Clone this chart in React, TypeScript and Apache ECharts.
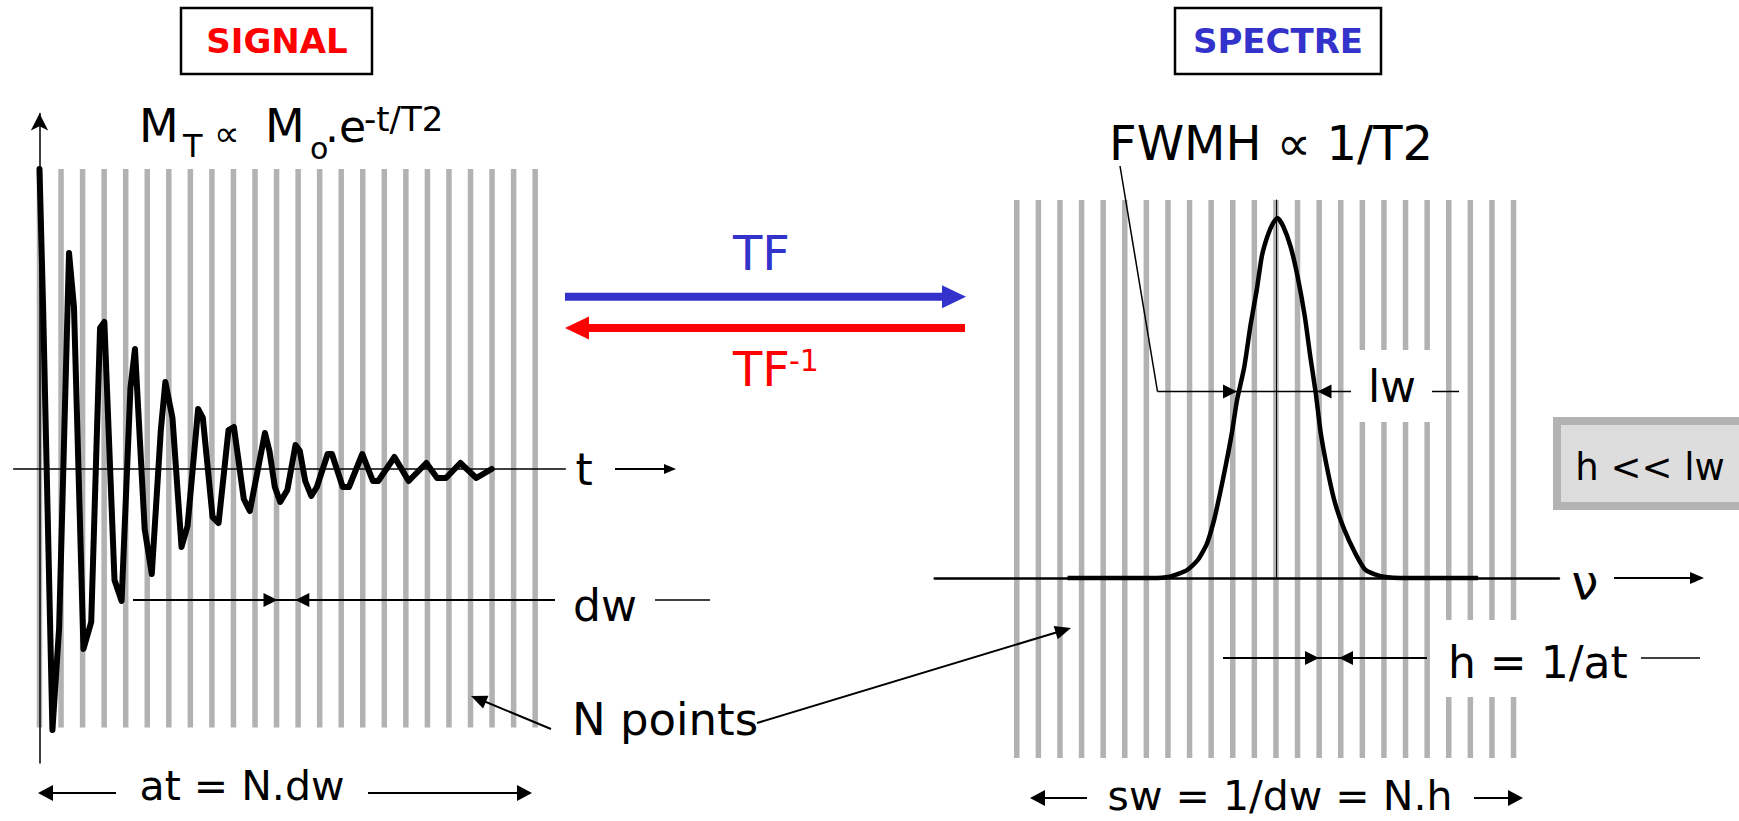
import React, { useEffect, useRef } from "react";
import * as echarts from "echarts";

// ---------- DATA ----------
// FID signal (time in units of dw, magnetisation normalised to M0)
const signalT = [0, 0.17, 0.6, 0.91, 1.37, 1.6, 2.04, 2.4, 2.81, 3.01, 3.48, 3.81, 4.22, 4.43, 4.88, 5.21, 5.63, 5.84, 6.17, 6.59, 6.87, 7.36, 7.58, 8.03, 8.31, 8.77, 9.02, 9.48, 9.76, 10.46, 10.67, 10.92, 11.17, 11.5, 11.88, 12.08, 12.33, 12.61, 12.87, 13.37, 13.57, 14.07, 14.36, 14.98, 15.47, 15.72, 16.47, 17.13, 17.95, 18.45, 18.86, 19.53, 20.27, 20.98];
const signalM = [1.0, 0.53, -0.87, -0.53, 0.72, 0.54, -0.6, -0.51, 0.47, 0.49, -0.37, -0.44, 0.27, 0.4, -0.2, -0.35, 0.13, 0.29, 0.17, -0.26, -0.19, 0.2, 0.17, -0.16, -0.18, 0.13, 0.14, -0.1, -0.14, 0.12, 0.06, -0.06, -0.11, -0.07, 0.08, 0.06, -0.04, -0.09, -0.06, 0.05, 0.05, -0.06, -0.06, 0.05, -0.04, -0.04, 0.04, -0.04, 0.02, -0.03, -0.03, 0.02, -0.03, 0.0];

// Spectrum (frequency in units of h, amplitude)
const specFreq = [-9.65, -5.77, -4.94, -4.12, -3.62, -3.2, -2.87, -2.59, -2.3, -2.05, -1.8, -1.47, -1.17, -0.89, -0.65, -0.39, -0.14, 0.07, 0.35, 0.68, 1.01, 1.34, 1.59, 1.84, 2.08, 2.42, 2.75, 3.16, 3.66, 4.15, 4.98, 6.14, 9.36];
const specAmp = [0, 0, 0.007, 0.044, 0.1, 0.19, 0.32, 0.47, 0.64, 0.8, 0.99, 1.17, 1.41, 1.6, 1.79, 1.9, 1.97, 2.0, 1.95, 1.84, 1.67, 1.45, 1.23, 1.03, 0.8, 0.58, 0.41, 0.27, 0.14, 0.044, 0.007, 0, 0];

// N sampling points (grey bars)
const leftBarTimes = [0, 1, 2, 3, 4, 5, 6, 7, 8, 9, 10, 11, 12, 13, 14, 15, 16, 17, 18, 19, 20, 21, 22, 23];
const rightBarFreqs = [-12, -11, -10, -9, -8, -7, -6, -5, -4, -3, -2, -1, 0, 1, 2, 3, 4, 5, 6, 7, 8, 9, 10, 11];
const leftBarSpan = [-0.862, 1.0];
const rightBarSpan = [-1.0, 2.1];
const spectrumTicks = [0, 0.5, 1, 1.5, 2];

// ---------- STYLE ----------
const FONT = "'DejaVu Sans', 'Noto Sans', sans-serif";
const BAR_W = 5.5;
const BAR_COLOR = "#b2b2b2";
const BLUE = "#3333cc";
const RED = "#ff0000";

function txt(text: string, x: number, y: number, size: number, opt: any = {}) {
  const align = opt.align || "center";
  return {
    type: "text",
    x,
    y,
    z: 100,
    style: {
      text,
      fontSize: size,
      fontFamily: FONT,
      fontWeight: opt.weight || "normal",
      fill: opt.color || "#000",
      align,
      verticalAlign: "middle",
      textAlign: align,
      textVerticalAlign: "middle",
    },
  };
}

function seg(x1: number, y1: number, x2: number, y2: number, w: number, color = "#000") {
  return { type: "line", z: 100, shape: { x1, y1, x2, y2 }, style: { stroke: color, lineWidth: w } };
}

function head(tipX: number, tipY: number, dx: number, dy: number, L: number, W: number, color = "#000") {
  const len = Math.hypot(dx, dy);
  const ux = dx / len, uy = dy / len;
  const bx = tipX - ux * L, by = tipY - uy * L;
  const px = -uy, py = ux;
  return {
    type: "polygon",
    z: 100,
    shape: { points: [[tipX, tipY], [bx + px * W, by + py * W], [bx - px * W, by - py * W]] },
    style: { fill: color },
  };
}

function barRender(span: number[]) {
  return (params: any, api: any) => {
    const x = api.value(0);
    const top = api.coord([x, span[1]]);
    const bot = api.coord([x, span[0]]);
    return {
      type: "rect",
      shape: { x: top[0] - BAR_W / 2, y: top[1], width: BAR_W, height: bot[1] - top[1] },
      style: { fill: BAR_COLOR },
    };
  };
}

const hidden = { show: false };

const graphics: any[] = [
  // title boxes
  { type: "rect", z: 90, shape: { x: 181, y: 8, width: 191, height: 66 }, style: { fill: "#fff", stroke: "#000", lineWidth: 2.5 } },
  txt("SIGNAL", 277, 41, 34, { weight: "bold", color: RED }),
  { type: "rect", z: 90, shape: { x: 1175, y: 8, width: 206, height: 66 }, style: { fill: "#fff", stroke: "#000", lineWidth: 2.5 } },
  txt("SPECTRE", 1278, 41, 34, { weight: "bold", color: BLUE }),

  // M_T ∝ M_o.e^(-t/T2)
  txt("M", 139, 126, 46, { align: "left" }),
  txt("T", 183, 146, 32, { align: "left" }),
  txt("∝", 214, 133, 36, { align: "left" }),
  txt("M", 265, 126, 46, { align: "left" }),
  txt("o", 310, 148, 30, { align: "left" }),
  txt(".e", 325, 126, 44, { align: "left" }),
  txt("-t/T2", 364, 119, 34, { align: "left" }),

  // FWMH
  txt("FWMH ∝ 1/T2", 1271, 143, 48),

  // TF arrows
  seg(565, 296.7, 944, 296.7, 8, BLUE),
  head(966, 296.7, 1, 0, 24, 11.5, BLUE),
  txt("TF", 733, 253, 48, { align: "left", color: BLUE }),
  seg(587, 328, 965, 328, 8, RED),
  head(565, 328, -1, 0, 24, 11.5, RED),
  txt("TF", 733, 369, 48, { align: "left", color: RED }),
  txt("-1", 789, 360, 30, { align: "left", color: RED }),

  // t label
  txt("t", 584, 469, 44),
  seg(615, 469, 668, 469, 2),
  head(676, 469, 1, 0, 12, 5),

  // dw
  seg(133, 600, 555, 600, 2),
  head(277.5, 600, 1, 0, 14, 7),
  head(295.3, 600, -1, 0, 14, 7),
  txt("dw", 605, 605, 44),
  seg(655, 600, 710, 600, 1.5),

  // N points
  txt("N points", 572, 719, 45, { align: "left" }),
  seg(551, 729, 480, 699.5, 2),
  head(471, 696, -80, -33, 16, 7),
  seg(757, 723, 1062, 630.7, 2),
  head(1071, 628, 314, -95, 16, 7),

  // at = N.dw
  seg(50, 793, 116, 793, 2),
  head(38, 793, -1, 0, 15, 8),
  txt("at = N.dw", 242, 786, 41),
  seg(368, 793, 520, 793, 2),
  head(532, 793, 1, 0, 15, 8),

  // lw
  { type: "rect", z: 50, shape: { x: 1352, y: 350, width: 80, height: 72 }, style: { fill: "#fff" } },
  seg(1120, 166, 1157.5, 391.5, 1.5),
  seg(1157.5, 391.5, 1351, 391.5, 1.5),
  head(1237, 391.5, 1, 0, 14, 7),
  head(1317.5, 391.5, -1, 0, 14, 7),
  txt("lw", 1392, 386.5, 44),
  seg(1432, 391.5, 1459, 391.5, 1.5),

  // h = 1/at
  { type: "rect", z: 50, shape: { x: 1440, y: 620, width: 80, height: 77 }, style: { fill: "#fff" } },
  seg(1223, 658, 1427, 658, 2),
  head(1319, 658, 1, 0, 14, 7),
  head(1339, 658, -1, 0, 14, 7),
  txt("h = 1/at", 1448, 662, 44, { align: "left" }),
  seg(1641, 658, 1700, 658, 1.5),

  // nu
  txt("ν", 1585, 582, 48),
  seg(1614, 578, 1692, 578, 2),
  head(1704, 578, 1, 0, 14, 6),

  // sw = 1/dw = N.h
  seg(1042, 798, 1087, 798, 2),
  head(1030, 798, -1, 0, 15, 8),
  txt("sw = 1/dw = N.h", 1280, 796, 41),
  seg(1474, 798, 1511, 798, 2),
  head(1523, 798, 1, 0, 15, 8),

  // h << lw box
  { type: "rect", z: 90, shape: { x: 1557, y: 421, width: 200, height: 85 }, style: { fill: "#dddddd", stroke: "#b3b3b3", lineWidth: 8 } },
  txt("h << lw", 1650, 467, 37),
];

const option: any = {
  animation: false,
  backgroundColor: "#ffffff",
  grid: [
    { left: 13.64, top: 113.5, width: 551.7, height: 649.5 },
    { left: 934.7, top: 200, width: 624.2, height: 378 },
  ],
  xAxis: [
    {
      type: "value", gridIndex: 0, min: -1.2, max: 24.4, z: 10,
      axisLine: { show: true, onZero: true, lineStyle: { color: "#000", width: 1.5 } },
      axisTick: hidden, axisLabel: hidden, splitLine: hidden,
    },
    {
      type: "value", gridIndex: 1, min: -15.8, max: 13.1, z: 10,
      axisLine: { show: true, onZero: true, lineStyle: { color: "#000", width: 2.5 } },
      axisTick: hidden, axisLabel: hidden, splitLine: hidden,
    },
  ],
  yAxis: [
    {
      type: "value", gridIndex: 0, min: -0.98, max: 1.185, z: 10,
      axisLine: { show: true, onZero: true, symbol: ["none", "arrow"], symbolSize: [13, 17], lineStyle: { color: "#000", width: 1.5 } },
      axisTick: hidden, axisLabel: hidden, splitLine: hidden,
    },
    {
      type: "value", gridIndex: 1, min: 0, max: 2.1, interval: 0.5, z: 10,
      axisLine: { show: true, onZero: true, lineStyle: { color: "#000", width: 1 } },
      axisTick: hidden, splitLine: hidden,
      axisLabel: { show: true, color: "#ffffff", fontSize: 20, fontFamily: FONT, margin: 19, showMaxLabel: false, customValues: spectrumTicks },
    },
  ],
  series: [
    {
      type: "custom", name: "N points (signal)", xAxisIndex: 0, yAxisIndex: 0, z: 2, clip: false, silent: true,
      renderItem: barRender(leftBarSpan), encode: { x: 0, y: 1 },
      data: leftBarTimes.map((t) => [t, 0]),
    },
    {
      type: "custom", name: "N points (spectre)", xAxisIndex: 1, yAxisIndex: 1, z: 2, clip: false, silent: true,
      renderItem: barRender(rightBarSpan), encode: { x: 0, y: 1 },
      data: rightBarFreqs.map((f) => [f, 0]),
    },
    {
      type: "line", name: "FID", xAxisIndex: 0, yAxisIndex: 0, z: 20, clip: false, silent: true,
      symbol: "none", data: signalT.map((t, i) => [t, signalM[i]]),
      lineStyle: { color: "#000", width: 6, join: "round", cap: "round" },
    },
    {
      type: "line", name: "Spectre", xAxisIndex: 1, yAxisIndex: 1, z: 20, clip: false, silent: true,
      symbol: "none", smooth: 0.2, data: specFreq.map((f, i) => [f, specAmp[i]]),
      lineStyle: { color: "#000", width: 4.5, join: "round" },
    },
  ],
  graphic: { elements: graphics },
};

export default function App() {
  const ref = useRef<HTMLDivElement>(null);
  useEffect(() => {
    if (!ref.current) return;
    const chart = echarts.init(ref.current, null, { renderer: "svg" });
    chart.setOption(option);
    return () => chart.dispose();
  }, []);
  return (
    <div
      ref={ref}
      style={{ position: "fixed", left: 0, top: 0, width: 1739, height: 821, background: "#fff" }}
    />
  );
}
